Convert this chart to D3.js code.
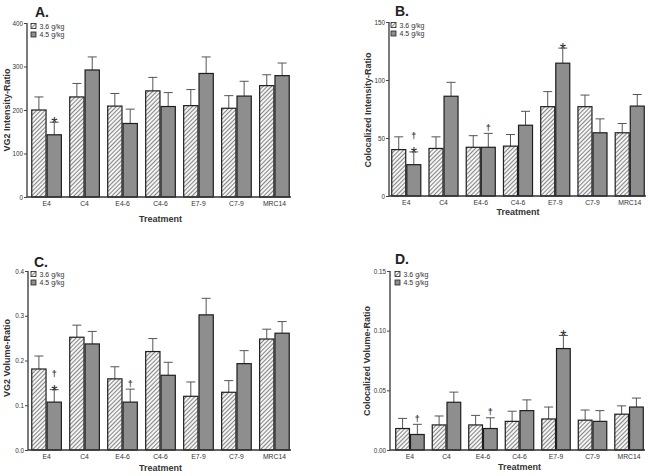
<!DOCTYPE html>
<html>
<head>
<meta charset="utf-8">
<script src="https://cdn.jsdelivr.net/npm/d3@7"></script>
<style>
  body { margin: 0; background: #fff; }
  svg { display: block; font-family: "Liberation Sans", Arial, sans-serif; }
</style>
</head>
<body>
<div id="graph"></div>
<script>
// categories and series
const treatments = ["E4", "C4", "E4-6", "C4-6", "E7-9", "C7-9", "MRC14"];
const doses = ["3.6 g/kg", "4.5 g/kg"];

// A. VG2 intensity ratio
const vg2Int36 = [200, 230, 209, 244, 210, 204, 256];
const vg2Int36Err = [30, 31, 29, 31, 37, 29, 25];
const vg2Int45 = [143, 292, 169, 208, 284, 232, 279];
const vg2Int45Err = [29, 30, 33, 32, 38, 34, 29];

// B. colocalized intensity ratio
const coInt36 = [40, 41, 42, 43, 77, 77, 54.5];
const coInt36Err = [11, 10, 10, 10, 13, 10, 8];
const coInt45 = [27, 86, 42, 61, 114.5, 54.5, 77.5];
const coInt45Err = [11, 12, 12, 12, 13, 12, 10];

// C. VG2 volume ratio
const vg2Vol36 = [0.181, 0.252, 0.159, 0.220, 0.120, 0.129, 0.248];
const vg2Vol36Err = [0.029, 0.027, 0.027, 0.029, 0.032, 0.026, 0.022];
const vg2Vol45 = [0.107, 0.237, 0.107, 0.167, 0.302, 0.193, 0.261];
const vg2Vol45Err = [0.028, 0.028, 0.029, 0.029, 0.037, 0.029, 0.026];

// D. colocalized volume ratio
const coVol36 = [0.018, 0.021, 0.021, 0.024, 0.026, 0.025, 0.030];
const coVol36Err = [0.0085, 0.0075, 0.008, 0.0085, 0.01, 0.0085, 0.007];
const coVol45 = [0.013, 0.040, 0.018, 0.033, 0.085, 0.024, 0.036];
const coVol45Err = [0.0085, 0.0085, 0.009, 0.009, 0.011, 0.009, 0.0075];

// significance marks on the 4.5 g/kg bars
const marksA = [["E4", "*"]];
const marksB = [["E4", "†*"], ["E4-6", "†"], ["E7-9", "*"]];
const marksC = [["E4", "†*"], ["E4-6", "†"]];
const marksD = [["E4", "†"], ["E4-6", "†"], ["E7-9", "*"]];

const fullWidth = 664, fullHeight = 476;

const svg = d3.select("#graph").append("svg")
  .attr("width", fullWidth)
  .attr("height", fullHeight);

const defs = svg.append("defs");
const pat = defs.append("pattern")
  .attr("id", "hatch")
  .attr("patternUnits", "userSpaceOnUse")
  .attr("width", 3).attr("height", 3)
  .attr("patternTransform", "rotate(45)");
pat.append("rect").attr("width", 3).attr("height", 3).attr("fill", "#f4f4f4");
pat.append("line")
  .attr("x1", 0).attr("y1", 0).attr("x2", 0).attr("y2", 3)
  .attr("stroke", "#3a3a3a").attr("stroke-width", 1.2);

const panels = [
  { letter: "A.", ylabel: "VG2 Intensity-Ratio", s36: vg2Int36, e36: vg2Int36Err, s45: vg2Int45, e45: vg2Int45Err,
    max: 400, ticks: [0, 100, 200, 300, 400], fmt: d3.format("d"), marks: marksA,
    ax: 27, x1: 31, x2: 290, yTop: 23, y0: 197, labX: 7, labY: 110, letX: 35, letY: 17, titleDy: 25 },
  { letter: "B.", ylabel: "Colocalized Intensity-Ratio", s36: coInt36, e36: coInt36Err, s45: coInt45, e45: coInt45Err,
    max: 150, ticks: [0, 50, 100, 150], fmt: d3.format("d"), marks: marksB,
    ax: 389, x1: 391, x2: 645, yTop: 22, y0: 196, labX: 368, labY: 110, letX: 395, letY: 16, titleDy: 19 },
  { letter: "C.", ylabel: "VG2 Volume-Ratio", s36: vg2Vol36, e36: vg2Vol36Err, s45: vg2Vol45, e45: vg2Vol45Err,
    max: 0.4, ticks: [0, 0.1, 0.2, 0.3, 0.4], fmt: d3.format(".1f"), marks: marksC,
    ax: 28, x1: 31, x2: 290, yTop: 271, y0: 450, labX: 7, labY: 358, letX: 34, letY: 267, titleDy: 21 },
  { letter: "D.", ylabel: "Colocalized Volume-Ratio", s36: coVol36, e36: coVol36Err, s45: coVol45, e45: coVol45Err,
    max: 0.15, ticks: [0, 0.05, 0.10, 0.15], fmt: d3.format(".2f"), marks: marksD,
    ax: 390, x1: 395, x2: 644, yTop: 271, y0: 450, labX: 367, labY: 361, letX: 395, letY: 264, titleDy: 20 }
];

panels.forEach(drawPanel);

function drawPanel(p) {
  const g = svg.append("g");

  const x = d3.scaleBand().domain(treatments).range([p.x1, p.x2]).paddingInner(0.22).paddingOuter(0.02);
  const xs = d3.scaleBand().domain(doses).range([0, x.bandwidth()]).paddingInner(0.07);
  const y = d3.scaleLinear().domain([0, p.max]).range([p.y0, p.yTop]);

  const rows = treatments.map((t, i) => ({ t: t, vals: [
    { dose: doses[0], v: p.s36[i], e: p.e36[i] },
    { dose: doses[1], v: p.s45[i], e: p.e45[i] }
  ]}));

  // error bars (only the upper half shows)
  const grp = g.selectAll(".grp").data(rows).enter().append("g")
    .attr("transform", d => "translate(" + x(d.t) + ",0)");

  grp.selectAll(".err").data(d => d.vals).enter().append("path")
    .attr("d", d => {
      const cx = xs(d.dose) + xs.bandwidth() / 2;
      return "M" + cx + "," + y(d.v) + "V" + y(d.v + d.e) + "M" + (cx - 4.5) + "," + y(d.v + d.e) + "H" + (cx + 4.5);
    })
    .attr("stroke", "#555").attr("stroke-width", 1).attr("fill", "none");

  grp.selectAll("rect").data(d => d.vals).enter().append("rect")
    .attr("x", d => xs(d.dose))
    .attr("y", d => y(d.v))
    .attr("width", xs.bandwidth())
    .attr("height", d => y(0) - y(d.v))
    .attr("fill", d => d.dose === doses[0] ? "url(#hatch)" : "#8e8e8e")
    .attr("stroke", "#1e1e1e").attr("stroke-width", 1.2);

  // significance marks
  p.marks.forEach(m => {
    const i = treatments.indexOf(m[0]);
    const top = y(p.s45[i] + p.e45[i]);
    const cx = x(m[0]) + xs(doses[1]) + xs.bandwidth() / 2;
    const sym = m[1];
    const hasStar = sym.indexOf("*") >= 0;
    if (hasStar) {
      g.append("text").attr("x", cx).attr("y", top + 7).attr("text-anchor", "middle")
        .attr("font-size", 16).attr("fill", "#2a2a2a").text("*");
    }
    if (sym.indexOf("†") >= 0) {
      g.append("text").attr("x", cx).attr("y", hasStar ? top - 12.5 : top - 2.5).attr("text-anchor", "middle")
        .attr("font-size", 9).attr("font-weight", "bold").attr("fill", "#3a3a3a").text("†");
    }
  });

  // y axis
  const yAxis = g.append("g").attr("transform", "translate(" + p.ax + ",0)")
    .call(d3.axisLeft(y).tickValues(p.ticks).tickFormat(p.fmt).tickSize(3).tickPadding(1));
  yAxis.select(".domain").attr("stroke", "#333").attr("stroke-width", 1.3).attr("d", "M0," + p.y0 + "V" + p.yTop);
  yAxis.selectAll("line").attr("stroke", "#444");
  yAxis.selectAll("text").attr("font-size", 6.3).attr("fill", "#333").attr("font-family", "Liberation Sans, Arial, sans-serif");

  // x axis
  const xAxis = g.append("g").attr("transform", "translate(0," + p.y0 + ")")
    .call(d3.axisBottom(x).tickSize(0).tickPadding(4));
  xAxis.select(".domain").attr("stroke", "#333").attr("stroke-width", 1.3).attr("d", "M" + p.ax + ",0H" + (p.x2 + 1));
  xAxis.selectAll("text").attr("font-size", 6.8).attr("fill", "#333").attr("font-family", "Liberation Sans, Arial, sans-serif");

  // titles
  g.append("text").attr("x", (p.x1 + p.x2) / 2).attr("y", p.y0 + p.titleDy)
    .attr("text-anchor", "middle").attr("font-size", 9).attr("font-weight", "bold").attr("fill", "#333")
    .text("Treatment");
  g.append("text").attr("transform", "translate(" + (p.labX + 3) + "," + p.labY + ") rotate(-90)")
    .attr("text-anchor", "middle").attr("font-size", 9).attr("font-weight", "bold").attr("fill", "#333")
    .text(p.ylabel);
  g.append("text").attr("x", p.letX).attr("y", p.letY)
    .attr("font-size", 14).attr("font-weight", "bold").attr("fill", "#222")
    .text(p.letter);

  // legend
  const leg = g.append("g").attr("transform", "translate(" + (p.x1) + "," + (p.yTop + 0.5) + ")");
  doses.forEach((d, i) => {
    leg.append("rect").attr("x", 0).attr("y", i * 8.5).attr("width", 5).attr("height", 5)
      .attr("fill", i === 0 ? "url(#hatch)" : "#8e8e8e").attr("stroke", "#222").attr("stroke-width", 0.8);
    leg.append("text").attr("x", 8.5).attr("y", i * 8.5 + 5).attr("font-size", 7).attr("fill", "#333").text(d);
  });
}
</script>
</body>
</html>
